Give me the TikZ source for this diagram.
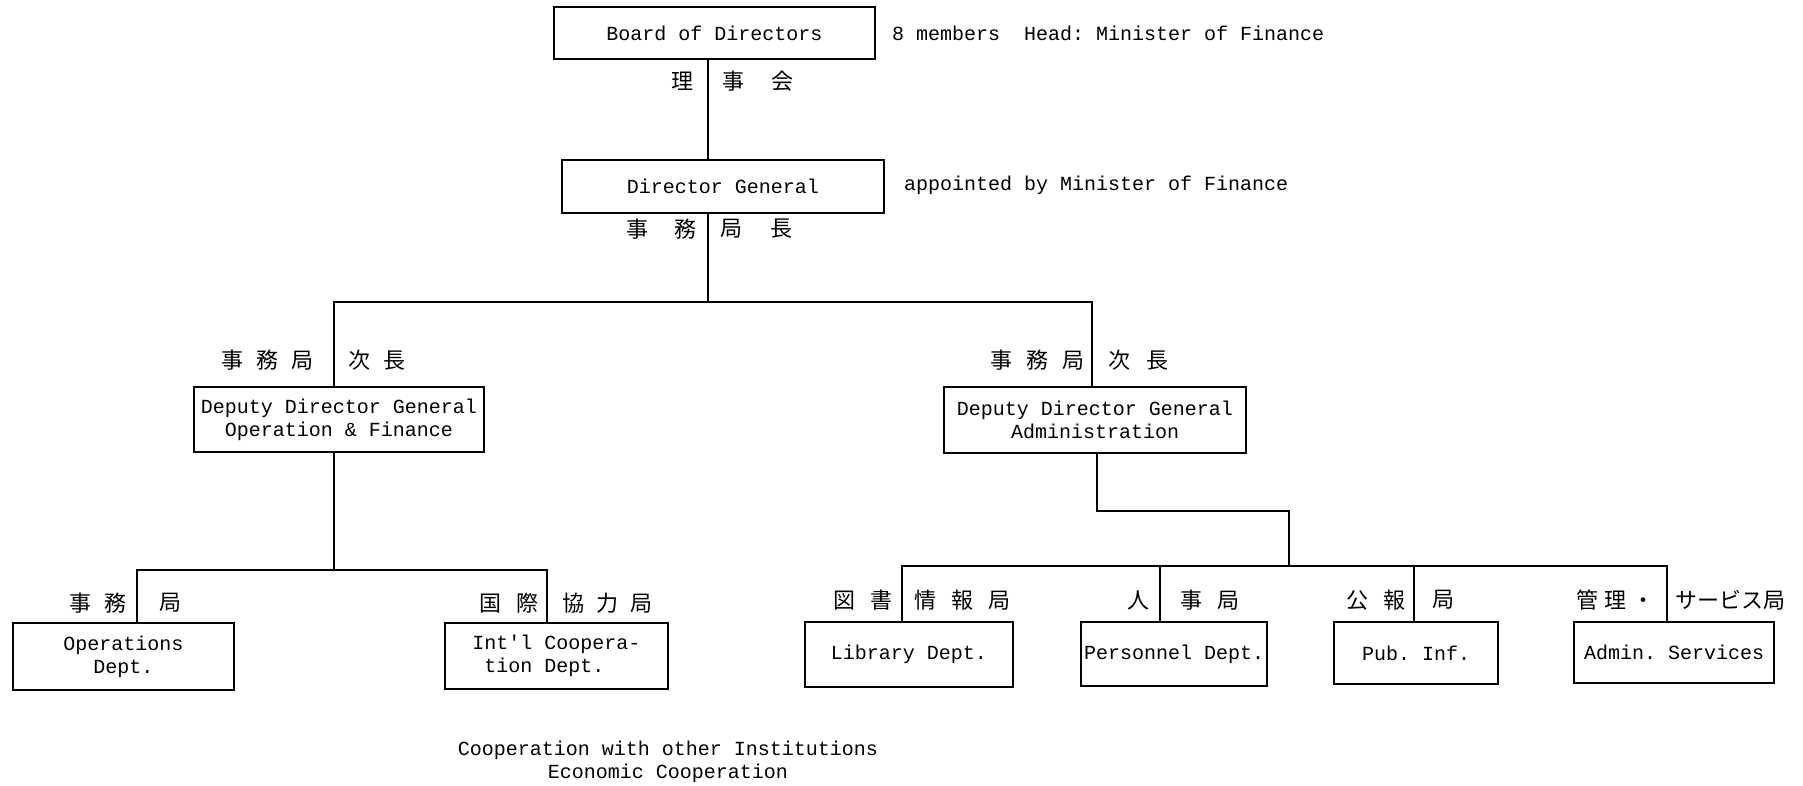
\documentclass[tikz,border=0pt]{standalone}
\usepackage{fontspec}
\setmonofont{Liberation Mono}
\newfontfamily\cjk{Noto Sans CJK JP}
\begin{document}
\begin{tikzpicture}[x=1pt,y=-1pt,
  box/.style={draw, line width=2.8pt, inner sep=0pt, align=center,
    font=\ttfamily\fontsize{20}{23}\selectfont},
  link/.style={line width=1.7pt},
  jl/.style={font=\cjk\fontsize{22}{22}\selectfont, inner sep=0pt},
  note/.style={font=\ttfamily\fontsize{20}{23}\selectfont, inner sep=0pt}]
\useasboundingbox (0,0) rectangle (1803,785);
\fill[white] (0,0) rectangle (1803,785);

% boxes
\node[box, minimum width=321pt, minimum height=52pt] (bod) at (714.5,33) {Board of Directors};
\node[box, minimum width=322pt, minimum height=53pt] (dg) at (723,186.5) {Director General};
\node[box, minimum width=290pt, minimum height=65pt] (ddgL) at (339,419.5) {Deputy Director General\\Operation \& Finance};
\node[box, minimum width=302pt, minimum height=66pt] (ddgR) at (1095,420) {Deputy Director General\\Administration};
\node[box, minimum width=221pt, minimum height=67pt] (ops) at (123.5,656.5) {Operations\\Dept.};
\node[box, minimum width=223pt, minimum height=66pt, align=left] (intl) at (556.5,656) {Int'l Coopera-\\\hspace*{12pt}tion Dept.};
\node[box, minimum width=208pt, minimum height=65pt] (lib) at (909,654.5) {Library Dept.};
\node[box, minimum width=186pt, minimum height=64pt] (pers) at (1174,654) {Personnel Dept.};
\node[box, minimum width=164pt, minimum height=62pt] (pub) at (1416,653) {Pub. Inf.};
\node[box, minimum width=200pt, minimum height=61pt] (adm) at (1674,652.5) {Admin. Services};

% side notes
\node[note, anchor=west] (n1) at (892,33) {8 members\ \ Head: Minister of Finance};
\node[note, anchor=west] (n2) at (904,185) {appointed by Minister of Finance};
\node[note, align=center] (n3) at (668,762) {Cooperation with other Institutions\\Economic Cooperation};

% connector coordinates
\coordinate (xa) at (708,0);
\coordinate (h1) at (708,302);
\coordinate (xl) at (334,0);
\coordinate (xr) at (1092,0);
\coordinate (h2) at (334,570);
\coordinate (b1) at (137,570);
\coordinate (b2) at (547,570);
\coordinate (k0) at (1097,511);
\coordinate (k1) at (1289,511);
\coordinate (h3) at (1289,566);
\coordinate (c1) at (902,566);
\coordinate (c2) at (1160,566);
\coordinate (c3) at (1414,566);
\coordinate (c4) at (1667,566);

\draw[link] (bod.south -| xa) -- (dg.north -| xa);
\draw[link] (dg.south -| xa) -- (h1);
\draw[link] (ddgL.north -| xl) |- (h1) -| (ddgR.north -| xr);
\draw[link] (ddgL.south -| xl) -- (h2);
\draw[link] (b1 |- ops.north) -- (b1) -- (b2) -- (b2 |- intl.north);
\draw[link] (ddgR.south -| k0) -- (k0) -- (k1) -- (h3);
\draw[link] (c1 |- lib.north) -- (c1) -- (c4) -- (c4 |- adm.north);
\draw[link] (c2) -- (c2 |- pers.north);
\draw[link] (c3) -- (c3 |- pub.north);

% Japanese labels
\node[jl, anchor=east] (j1a) at (694,81) {理};
\node[jl, anchor=west] (j1b) at (722,81) {事\hspace{27pt}会};
\node[jl, anchor=east] (j2a) at (697,229) {事\hspace{26pt}務};
\node[jl, anchor=west] (j2b) at (720,229) {局\hspace{28pt}長};
\node[jl, anchor=east] (j3a) at (314,360) {事\hspace{13pt}務\hspace{13pt}局};
\node[jl, anchor=west] (j3b) at (348,360) {次\hspace{13pt}長};
\node[jl, anchor=east] (j4a) at (1085,360) {事\hspace{14pt}務\hspace{14pt}局};
\node[jl, anchor=west] (j4b) at (1108,360) {次\hspace{16pt}長};
\node[jl, anchor=east] (j5a) at (127,603) {事\hspace{13pt}務};
\node[jl, anchor=west] (j5b) at (159,603) {局};
\node[jl, anchor=east] (j6a) at (539,603) {国\hspace{15pt}際};
\node[jl, anchor=west] (j6b) at (562,603) {協\hspace{12pt}力\hspace{12pt}局};
\node[jl, anchor=east] (j7a) at (893,600) {図\hspace{15pt}書};
\node[jl, anchor=west] (j7b) at (914,600) {情\hspace{15pt}報\hspace{15pt}局};
\node[jl, anchor=east] (j8a) at (1150,600) {人};
\node[jl, anchor=west] (j8b) at (1180,600) {事\hspace{15pt}局};
\node[jl, anchor=east] (j9a) at (1406,600) {公\hspace{15pt}報};
\node[jl, anchor=west] (j9b) at (1432,600) {局};
\node[jl, anchor=east] (j10a) at (1655,600) {管\hspace{6pt}理\hspace{6pt}・};
\node[jl, anchor=west] (j10b) at (1675,600) {サービス局};
\end{tikzpicture}
\end{document}
